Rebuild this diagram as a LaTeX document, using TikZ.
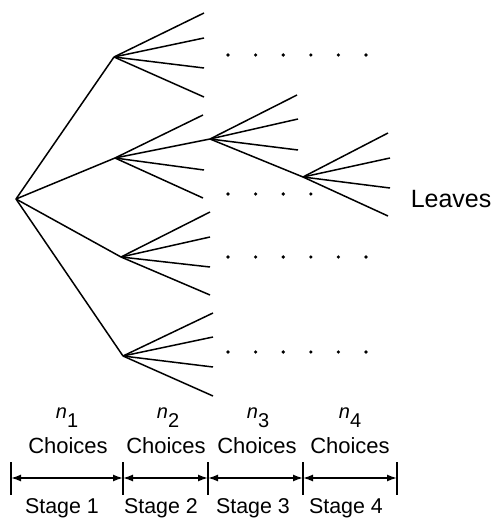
\documentclass[tikz,border=0pt]{standalone}
\usepackage{fontspec}
\setmainfont{Liberation Sans}
\usetikzlibrary{arrows.meta}

\begin{document}
\begin{tikzpicture}[x=0.5pt, y=-0.5pt, line width=0.75pt,
  span/.style={{Latex[length=5pt,width=3.5pt]}-{Latex[length=5pt,width=3.5pt]}},
  choicetext/.style={anchor=base, inner sep=0pt, font=\fontsize{11}{13}\selectfont},
  stagetext/.style={anchor=base, inner sep=0pt, font=\fontsize{10.7}{13}\selectfont}]
\useasboundingbox (0,0) rectangle (491,519);

% tree nodes
\coordinate (root) at (16,199);
\coordinate (a) at (114,57);
\coordinate (b) at (115,158);
\coordinate (c) at (121,257);
\coordinate (d) at (123,356);
\coordinate (e) at (210,139);
\coordinate (f) at (303,177);

\foreach \n in {a,b,c,d} \draw (root) -- (\n);

\foreach \y [count=\i] in {13,38,68,97} \draw (a) -- (204,\y) coordinate (a\i);
\draw (b) -- (203,115) coordinate (b1);
\draw (b) -- (e);
\draw (b) -- (204,170) coordinate (b3);
\draw (b) -- (203,198) coordinate (b4);
\foreach \y [count=\i] in {212,237,267,295} \draw (c) -- (210,\y) coordinate (c\i);
\foreach \y [count=\i] in {313,337,367,396} \draw (d) -- (213,\y) coordinate (d\i);
\foreach \p [count=\i] in {(297,95),(298,119),(298,150)} \draw (e) -- \p coordinate (e\i);
\draw (e) -- (f);
\foreach \p [count=\i] in {(388,133),(390,158),(390,188),(388,216)} \draw (f) -- \p coordinate (f\i);

% dotted rows
\foreach \y/\k in {55/5, 194/3, 257/5, 352/5}
  \foreach \j in {0,...,\k}
    \fill (228+27.6*\j,\y) circle (1.8);

\node[anchor=base west, inner sep=0pt, font=\fontsize{12.5}{15}\selectfont] (leaves) at (410,207) {Leaves};

% stage scale
\foreach \x [count=\i] in {11,123,208,303,397} {
  \draw (\x,462) -- (\x,495);
  \coordinate (m\i) at (\x,478);
}
\foreach \a/\b in {1/2,2/3,3/4,4/5} \draw[span] (m\a) -- (m\b);

\foreach \x/\i in {67/1,168/2,258/3,350/4}
  \node[anchor=base, inner sep=0pt, font=\fontsize{10}{12}\selectfont] (n\i) at (\x,418) {\textit{n}\raisebox{-4.5pt}{\i}};
\foreach \x/\i in {68/1,166/2,257/3,350/4}
  \node[choicetext] (choice\i) at (\x,453) {Choices};
\foreach \x/\i in {62/1,161/2,253/3,346/4}
  \node[stagetext] (stage\i) at (\x,513) {Stage \i};

\end{tikzpicture}
\end{document}
